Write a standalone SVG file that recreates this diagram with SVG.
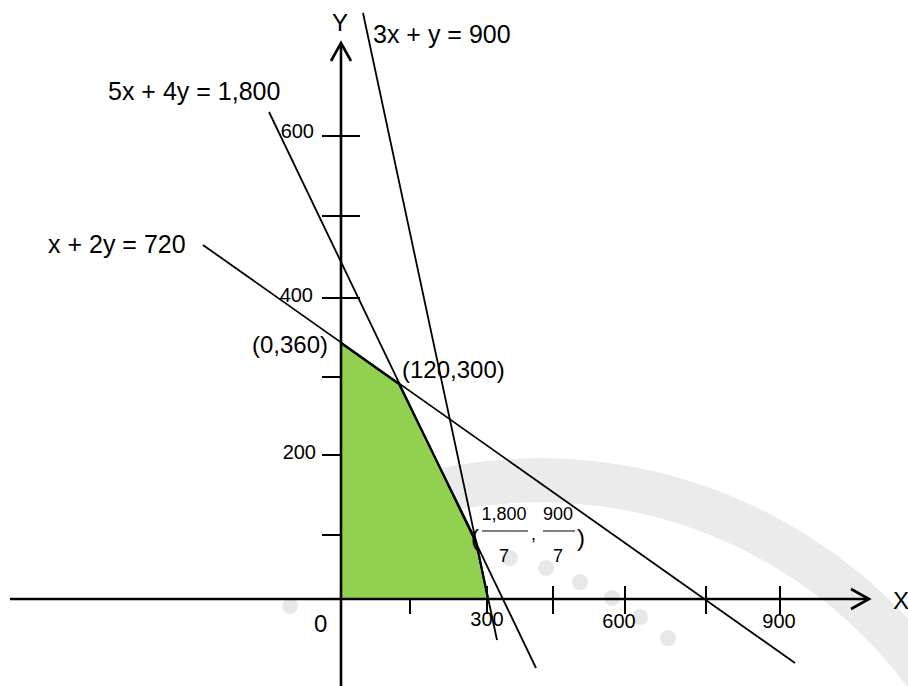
<svg xmlns="http://www.w3.org/2000/svg" width="908" height="686" viewBox="0 0 908 686">
<style>
text{font-family:"Liberation Sans",Arial,sans-serif;fill:#000}
.eq{font-size:25px}
.pt{font-size:24px}
.tk{font-size:20px}
.fr{font-size:18px}
.ln{stroke:#000;stroke-width:1.8;fill:none}
.ax{stroke:#000;stroke-width:2.6;fill:none}
.tick{stroke:#000;stroke-width:2}
</style>
<rect width="908" height="686" fill="#fff"/>
<g id="watermark" fill="none">
  <path d="M430,493 A480,480 0 0 1 940,695" stroke="#ebebeb" stroke-width="44"/>
  <g fill="#e8e8e8">
    <circle cx="510" cy="558" r="8"/><circle cx="546" cy="568" r="8"/>
    <circle cx="580" cy="582" r="8"/><circle cx="612" cy="598" r="8"/><circle cx="640" cy="617" r="8"/>
    <circle cx="668" cy="638" r="8"/><circle cx="290" cy="606" r="8"/>
  </g>
</g>
<g id="ticks">
  <line class="tick" x1="322" y1="136" x2="360" y2="136"/>
  <line class="tick" x1="322" y1="216" x2="360" y2="216"/>
  <line class="tick" x1="322" y1="298" x2="360" y2="298"/>
  <line class="tick" x1="322" y1="377" x2="360" y2="377"/>
  <line class="tick" x1="322" y1="455" x2="360" y2="455"/>
  <line class="tick" x1="322" y1="535" x2="360" y2="535"/>
  <line class="tick" x1="410" y1="586" x2="410" y2="614"/>
  <line class="tick" x1="487" y1="586" x2="487" y2="614"/>
  <line class="tick" x1="553" y1="586" x2="553" y2="614"/>
  <line class="tick" x1="625" y1="586" x2="625" y2="614"/>
  <line class="tick" x1="706" y1="586" x2="706" y2="614"/>
  <line class="tick" x1="780" y1="586" x2="780" y2="614"/>
</g>
<g id="feasible-region">
  <polygon points="341,343 399,384 476,541 488,599 341,599" fill="#92d050" stroke="none"/>
  <polyline points="341,343 399,384 476,541 488,599" fill="none" stroke="#000" stroke-width="2.2"/>
</g>
<g id="connectors">
  <line id="line-x2y720" class="ln" x1="203" y1="245" x2="795" y2="663"/>
  <line id="line-5x4y1800" class="ln" x1="269" y1="112" x2="536" y2="668"/>
  <line id="line-3xy900" class="ln" x1="363" y1="13" x2="497" y2="640"/>
</g>
<g id="axes">
  <line class="ax" x1="10" y1="599" x2="869" y2="599"/>
  <polyline class="ax" points="851,589 869,599 851,609"/>
  <line class="ax" x1="341" y1="686" x2="341" y2="43"/>
  <polyline class="ax" points="331,61 341,43 351,61"/>
</g>
<g id="labels">
  <text x="340" y="31" class="pt" text-anchor="middle">Y</text>
  <text x="893" y="609" class="pt">X</text>
  <text x="373" y="43" class="eq">3x + y = 900</text>
  <text x="108" y="100" class="eq">5x + 4y = 1,800</text>
  <text x="48" y="253" class="eq">x + 2y = 720</text>
  <text x="314" y="138" class="tk" text-anchor="end">600</text>
  <text x="313" y="302" class="tk" text-anchor="end">400</text>
  <text x="316" y="459" class="tk" text-anchor="end">200</text>
  <text x="252" y="353" class="pt">(0,360)</text>
  <text x="402" y="378" class="pt">(120,300)</text>
  <text x="314" y="632" class="pt">0</text>
  <text x="487" y="626" class="tk" text-anchor="middle">300</text>
  <text x="619" y="628" class="tk" text-anchor="middle">600</text>
  <text x="779" y="628" class="tk" text-anchor="middle">900</text>
</g>
<g id="point-label">
  <text x="471" y="546" class="pt">(</text>
  <text x="504" y="520" class="fr" text-anchor="middle">1,800</text>
  <line x1="482" y1="531" x2="528" y2="531" stroke="#555" stroke-width="1.5"/>
  <text x="504" y="562" class="fr" text-anchor="middle">7</text>
  <text x="531" y="540" class="fr">,</text>
  <text x="558" y="520" class="fr" text-anchor="middle">900</text>
  <line x1="543" y1="531" x2="575" y2="531" stroke="#555" stroke-width="1.5"/>
  <text x="558" y="562" class="fr" text-anchor="middle">7</text>
  <text x="577" y="546" class="pt">)</text>
</g>
</svg>
